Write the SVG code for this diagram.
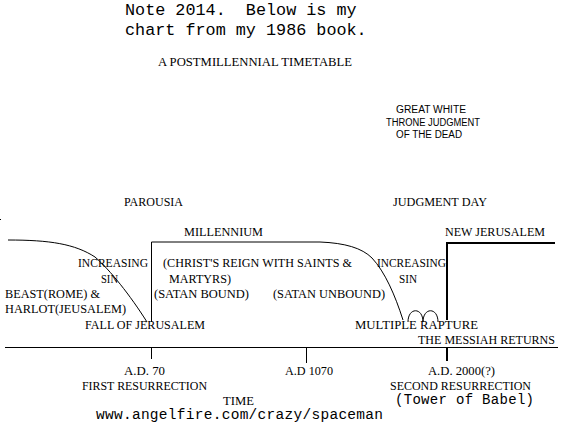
<svg xmlns="http://www.w3.org/2000/svg" width="563" height="422" viewBox="0 0 563 422">
<style>
.s{font-family:"Liberation Serif","Times New Roman",serif;font-size:12px;fill:#000}
.a{font-family:"Liberation Sans",Arial,sans-serif;font-size:10px;fill:#000}
.m{font-family:"Liberation Mono","Courier New",monospace;fill:#000;white-space:pre}
.ln{fill:none;stroke:#000;stroke-width:1}
.tk{fill:none;stroke:#000;stroke-width:2}
</style>
<rect width="563" height="422" fill="#fff"/>
<g id="note">
<text class="m" x="125" y="15" font-size="16.8">Note 2014.  Below is my</text>
<text class="m" x="125" y="35" font-size="16.8">chart from my 1986 book.</text>
</g>
<g id="title"><text class="s" x="158" y="66" textLength="194" lengthAdjust="spacingAndGlyphs">A POSTMILLENNIAL TIMETABLE</text></g>
<g id="great-white-throne">
<text class="a" x="396" y="113" textLength="70" lengthAdjust="spacingAndGlyphs">GREAT WHITE</text>
<text class="a" x="386" y="126" textLength="94" lengthAdjust="spacingAndGlyphs">THRONE JUDGMENT</text>
<text class="a" x="396" y="138" textLength="66" lengthAdjust="spacingAndGlyphs">OF THE DEAD</text>
</g>
<g id="connectors">
<path class="ln" d="M8,240 C50,240 75,244 95,257 C110,270 130,295 147,322"/>
<path class="ln" d="M151.5,322 V242 H320 C345,243 362,248 372,258 C385,272 395,295 403,320"/>
<path class="ln" d="M408,322 C408,307 423,307 423,322 C423,307 438,307 438,322"/>
<path class="tk" d="M447,320 V243 H555"/>
<path class="ln" d="M5,347.5 H558"/>
<path class="ln" d="M151.5,347 V359"/>
<path class="ln" d="M306.5,347 V363"/>
<path class="tk" d="M447,347 V361"/>
<rect x="0" y="219" width="1" height="1" fill="#000"/>
</g>
<g id="parousia"><text class="s" x="124" y="206" textLength="59" lengthAdjust="spacingAndGlyphs">PAROUSIA</text></g>
<g id="judgment-day"><text class="s" x="393" y="206" textLength="94" lengthAdjust="spacingAndGlyphs">JUDGMENT DAY</text></g>
<g id="millennium"><text class="s" x="184" y="236" textLength="79" lengthAdjust="spacingAndGlyphs">MILLENNIUM</text></g>
<g id="new-jerusalem"><text class="s" x="445" y="236" textLength="100" lengthAdjust="spacingAndGlyphs">NEW JERUSALEM</text></g>
<g id="increasing-sin-1">
<text class="s" x="78" y="267" textLength="70" lengthAdjust="spacingAndGlyphs">INCREASING</text>
<text class="s" x="101" y="283" textLength="17" lengthAdjust="spacingAndGlyphs">SIN</text>
</g>
<g id="reign">
<text class="s" x="163" y="267" textLength="189" lengthAdjust="spacingAndGlyphs">(CHRIST'S REIGN WITH SAINTS &amp;</text>
<text class="s" x="169" y="283" textLength="62" lengthAdjust="spacingAndGlyphs">MARTYRS)</text>
</g>
<g id="satan-bound"><text class="s" x="154" y="298" textLength="95" lengthAdjust="spacingAndGlyphs">(SATAN BOUND)</text></g>
<g id="satan-unbound"><text class="s" x="273" y="298" textLength="112" lengthAdjust="spacingAndGlyphs">(SATAN UNBOUND)</text></g>
<g id="increasing-sin-2">
<text class="s" x="377" y="267" textLength="69" lengthAdjust="spacingAndGlyphs">INCREASING</text>
<text class="s" x="399" y="283" textLength="18" lengthAdjust="spacingAndGlyphs">SIN</text>
</g>
<g id="beast-harlot">
<text class="s" x="5" y="298" textLength="95" lengthAdjust="spacingAndGlyphs">BEAST(ROME) &amp;</text>
<text class="s" x="5" y="313" textLength="121" lengthAdjust="spacingAndGlyphs">HARLOT(JEUSALEM)</text>
</g>
<g id="fall-of-jerusalem"><text class="s" x="85" y="329" textLength="120" lengthAdjust="spacingAndGlyphs">FALL OF JERUSALEM</text></g>
<g id="multiple-rapture"><text class="s" x="355" y="329" textLength="123" lengthAdjust="spacingAndGlyphs">MULTIPLE RAPTURE</text></g>
<g id="messiah-returns"><text class="s" x="418" y="344" textLength="137" lengthAdjust="spacingAndGlyphs">THE MESSIAH RETURNS</text></g>
<g id="ad70">
<text class="s" x="124" y="375" textLength="41" lengthAdjust="spacingAndGlyphs">A.D. 70</text>
<text class="s" x="82" y="390" textLength="125" lengthAdjust="spacingAndGlyphs">FIRST RESURRECTION</text>
</g>
<g id="ad1070"><text class="s" x="285" y="375" textLength="48" lengthAdjust="spacingAndGlyphs">A.D 1070</text></g>
<g id="ad2000">
<text class="s" x="428" y="375" textLength="67" lengthAdjust="spacingAndGlyphs">A.D. 2000(?)</text>
<text class="s" x="390" y="390" textLength="141" lengthAdjust="spacingAndGlyphs">SECOND RESURRECTION</text>
<text class="m" x="395" y="404" font-size="14" textLength="139" lengthAdjust="spacing">(Tower of Babel)</text>
</g>
<g id="time"><text class="s" x="223" y="405" textLength="31" lengthAdjust="spacingAndGlyphs">TIME</text></g>
<g id="url"><text class="m" x="96" y="419" font-size="14.5" textLength="287" lengthAdjust="spacing">www.angelfire.com/crazy/spaceman</text></g>
</svg>
